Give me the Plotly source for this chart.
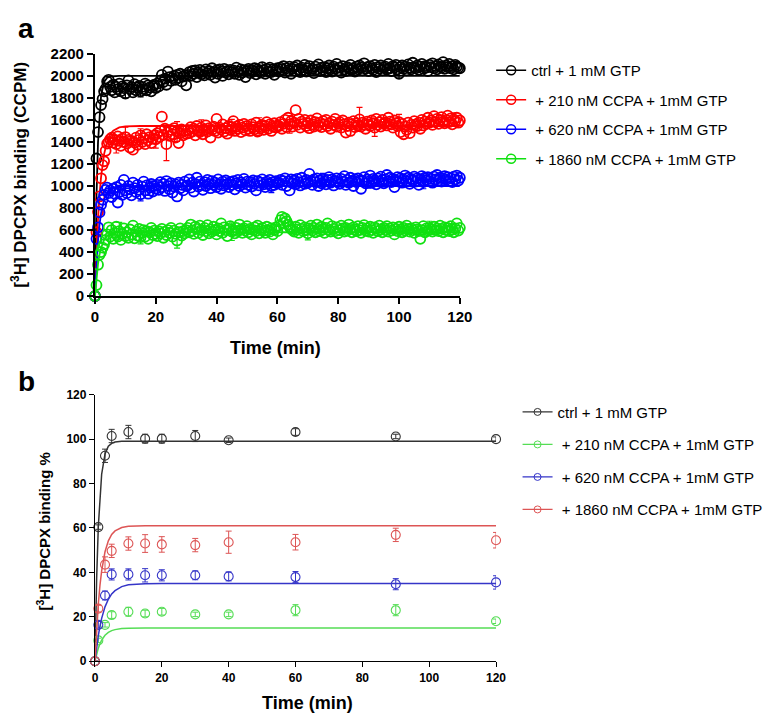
import plotly.graph_objects as go

# ---------------- Panel a data (time step 0.5 min) ----------------
A_CTRL = [0, 1250, 1490, 1625, 1735, 1790, 1860, 1885, 1950, 1965, 1900,
          1870, 1920, 1850, 1900, 1880, 1930, 1860, 1905, 1890, 1840,
          1915, 1960, 1880, 1900, 1850, 1925, 1870, 1895, 1910, 1860,
          1900, 1880, 1930, 1870, 1915, 1895, 1860, 1905, 1920, 1890,
          1930, 1905, 1960, 2010, 1945, 1975, 1920, 2040, 1990, 1955,
          1980, 2000, 1965, 2010, 1985, 2020, 1950, 1995, 2005, 1915,
          2010, 2035, 2000, 2045, 2020, 2050, 1990, 2030, 2055, 2015,
          2040, 2005, 2060, 2025, 2045, 2010, 2070, 2035, 1985, 2050,
          2020, 2060, 2040, 2000, 2065, 2030, 2045, 2015, 2055, 2035,
          2050, 2020, 2075, 2040, 2010, 2060, 2030, 2050, 1990, 2045,
          2065, 2025, 2055, 2040, 2070, 2015, 2060, 2045, 2030, 2080,
          2050, 2020, 2065, 2040, 2075, 2035, 2060, 2010, 2055, 2070,
          2040, 2075, 2060, 2090, 2030, 2070, 2050, 2085, 2020, 2065,
          2080, 2045, 2095, 2060, 2035, 2075, 2055, 2100, 2040, 2070,
          2090, 2050, 2065, 2025, 2085, 2060, 2105, 2045, 2075, 2055,
          2080, 2035, 2070, 2095, 2060, 2040, 2085, 2065, 2110, 2050,
          2075, 2030, 2090, 2060, 2045, 2080, 2065, 2100, 2055, 2070,
          2040, 2085, 2060, 2095, 2075, 2050, 2115, 2065, 2080, 2045,
          2090, 2070, 2055, 2100, 2035, 2080, 2065, 2095, 2050, 2075,
          2085, 2060, 2110, 2070, 2045, 2090, 2075, 2100, 2060, 2020,
          2080, 2095, 2065, 2085, 2050, 2105, 2075, 2060, 2120, 2080,
          2070, 2095, 2055, 2085, 2110, 2065, 2090, 2075, 2045, 2100,
          2080, 2115, 2070, 2090, 2060, 2105, 2085, 2075, 2125, 2065,
          2095, 2080, 2110, 2070, 2090, 2060, 2100, 2085, 2075, 2070]

A_210 = [0, 580, 765, 905, 1070, 1190, 1225, 1320, 1385, 1400, 1425,
         1440, 1395, 1420, 1380, 1450, 1410, 1365, 1430, 1400, 1445,
         1385, 1420, 1350, 1410, 1330, 1395, 1440, 1375, 1420, 1460,
         1400, 1435, 1380, 1470, 1415, 1445, 1390, 1430, 1460, 1425,
         1480, 1445, 1500, 1630, 1465, 1520, 1380, 1490, 1455, 1510,
         1470, 1525, 1440, 1495, 1390, 1480, 1515, 1460, 1500, 1475,
         1510, 1480, 1535, 1495, 1520, 1460, 1545, 1505, 1490, 1530,
         1470, 1515, 1550, 1495, 1525, 1440, 1510, 1540, 1500, 1610,
         1485, 1530, 1515, 1560, 1495, 1525, 1475, 1545, 1510, 1535,
         1590, 1500, 1540, 1520, 1555, 1490, 1530, 1565, 1505, 1545,
         1520, 1500, 1560, 1535, 1515, 1575, 1495, 1540, 1525, 1555,
         1510, 1545, 1580, 1520, 1560, 1500, 1540, 1570, 1530, 1550,
         1545, 1580, 1520, 1565, 1600, 1535, 1620, 1560, 1590, 1540,
         1575, 1690, 1555, 1610, 1530, 1585, 1565, 1600, 1545, 1570,
         1525, 1595, 1560, 1540, 1580, 1615, 1550, 1575, 1535, 1590,
         1560, 1600, 1545, 1570, 1520, 1585, 1555, 1610, 1540, 1565,
         1580, 1530, 1595, 1560, 1485, 1545, 1575, 1500, 1560, 1590,
         1535, 1570, 1550, 1605, 1540, 1575, 1555, 1520, 1585, 1560,
         1545, 1595, 1570, 1530, 1610, 1555, 1580, 1540, 1600, 1565,
         1575, 1550, 1620, 1585, 1560, 1530, 1595, 1570, 1545, 1580,
         1490, 1565, 1470, 1540, 1510, 1575, 1480, 1555, 1530, 1590,
         1560, 1545, 1575, 1520, 1600, 1550, 1585, 1565, 1620, 1575,
         1595, 1555, 1635, 1580, 1610, 1565, 1600, 1625, 1585, 1570,
         1600, 1640, 1580, 1615, 1560, 1605, 1590, 1620, 1575, 1595]

A_620 = [0, 520, 625, 760, 830, 875, 920, 965, 985, 935, 960,
         900, 975, 930, 990, 850, 945, 1010, 920, 1055, 960,
         935, 1000, 970, 915, 1030, 980, 945, 1010, 965, 925,
         995, 1040, 960, 1005, 930, 985, 1020, 950, 1000, 975,
         1010, 965, 1035, 990, 1020, 955, 1045, 1000, 970, 1025,
         940, 995, 1015, 905, 1030, 980, 1010, 960, 1040, 1000,
         1005, 1060, 985, 1030, 950, 1020, 1075, 995, 1040, 1010,
         965, 1035, 1000, 1055, 1020, 980, 1045, 1010, 1030, 990,
         1060, 1015, 975, 1040, 1005, 1050, 1020, 990, 1035, 1010,
         1045, 970, 1025, 1055, 1000, 1030, 1015, 1065, 985, 1040,
         1010, 1035, 995, 1050, 1020, 960, 1045, 1005, 1030, 1060,
         1015, 990, 1040, 1020, 1055, 1000, 1035, 1010, 1045, 1025,
         1030, 1055, 1010, 1045, 1070, 1000, 1040, 960, 1060, 1025,
         1050, 1015, 1065, 1035, 1005, 1075, 1040, 1020, 1055, 1030,
         1110, 1045, 1010, 1060, 1035, 1070, 1000, 1050, 1025, 1065,
         1040, 1015, 1055, 1080, 1030, 1060, 1005, 1045, 1070, 1035,
         1020, 1065, 1040, 1090, 1010, 1055, 1030, 1075, 1045, 1000,
         1060, 1035, 1070, 1050, 975, 1045, 1080, 1025, 1060, 1040,
         1095, 1030, 1065, 1050, 1015, 1070, 1040, 1085, 1055, 1025,
         1060, 1100, 1045, 1075, 1035, 1065, 990, 1050, 1080, 1040,
         1070, 1030, 1060, 1095, 1045, 1075, 1020, 1065, 1050, 1085,
         1040, 1070, 1010, 1060, 1090, 1035, 1075, 1055, 1080, 1045,
         1065, 1030, 1085, 1060, 1100, 1050, 1075, 1040, 1070, 1090,
         1055, 1080, 1045, 1070, 1035, 1085, 1060, 1095, 1050, 1075]

A_1860 = [0, 100, 285, 375, 400, 440, 470, 510, 560, 625, 540,
          600, 520, 575, 630, 540, 590, 510, 565, 615, 545,
          580, 530, 605, 560, 640, 525, 585, 550, 610, 535,
          575, 600, 540, 590, 520, 580, 620, 555, 595, 565,
          545, 590, 570, 610, 530, 585, 555, 600, 575, 620,
          540, 595, 565, 505, 580, 615, 550, 590, 570, 600,
          620, 580, 650, 595, 565, 630, 610, 575, 640, 600,
          555, 620, 590, 645, 570, 605, 585, 630, 600, 560,
          615, 590, 660, 575, 625, 600, 545, 610, 635, 585,
          600, 570, 620, 590, 650, 605, 575, 615, 595, 635,
          580, 610, 560, 600, 625, 590, 640, 570, 605, 620,
          595, 575, 630, 600, 585, 615, 560, 605, 625, 590,
          640, 690, 720, 665, 705, 680, 650, 630, 610, 600,
          585, 630, 605, 575, 645, 610, 590, 625, 600, 570,
          615, 640, 595, 620, 580, 650, 610, 590, 630, 605,
          575, 620, 660, 600, 585, 635, 610, 590, 625, 570,
          600, 640, 615, 585, 620, 595, 650, 610, 580, 625,
          605, 590, 635, 600, 575, 620, 645, 595, 615, 585,
          630, 600, 575, 625, 610, 590, 640, 605, 580, 620,
          600, 635, 585, 615, 595, 625, 560, 610, 590, 630,
          605, 580, 620, 595, 640, 610, 585, 615, 600, 575,
          625, 605, 590, 520, 600, 635, 580, 615, 595, 620,
          605, 585, 630, 600, 615, 590, 640, 610, 580, 625,
          600, 620, 590, 635, 605, 580, 615, 660, 595, 620]

# visible error bars in panel a: (time, SEM)
ERR_T_CTRL = [10, 15, 55, 100, 119]
ERR_CTRL = [40, 50, 40, 40, 40]
ERR_T_210 = [7, 10, 15, 20, 23.5, 27, 35, 45, 54, 64, 87, 92, 100, 118]
ERR_210 = [80, 90, 60, 80, 150, 90, 70, 70, 80, 80, 110, 80, 70, 60]
ERR_T_620 = [8, 15, 18, 30, 58, 75, 90, 108]
ERR_620 = [60, 60, 70, 40, 60, 50, 60, 60]
ERR_T_1860 = [8, 15, 27, 45, 70, 110]
ERR_1860 = [80, 60, 70, 80, 60, 60]

# fitted curves panel a
FIT_T_A = [0, 0.25, 0.5, 1, 1.5, 2, 3, 4, 5, 6, 8, 10, 15, 20, 120]
FIT_A_CTRL = [0, 518, 902, 1398, 1669, 1819, 1945, 1984, 1995, 1998, 2000, 2000, 2000, 2000, 2000]
FIT_A_210 = [0, 215, 400, 697, 917, 1080, 1290, 1405, 1468, 1503, 1532, 1541, 1545, 1545, 1545]
FIT_A_620 = [0, 161, 295, 503, 650, 753, 878, 939, 970, 985, 996, 999, 1000, 1000, 1000]
FIT_A_1860 = [0, 93, 171, 292, 377, 437, 509, 545, 563, 571, 578, 579, 580, 580, 580]

# ---------------- Panel b data ----------------
T_B = [0, 1, 3, 5, 10, 15, 20, 30, 40, 60, 90, 120]
B_CTRL = [0, 60.4, 92.5, 101.4, 103.2, 100.2, 100.2, 101.4, 99.5, 103.2, 101.2, 100.0]
B_CTRL_ERR = [0, 1, 3, 3, 3, 2, 2, 2.5, 1, 1.5, 1, 1]
B_210 = [0, 9.4, 16.4, 20.8, 22.3, 21.5, 22.3, 21.1, 21.1, 23.0, 23.0, 18.0]
B_210_ERR = [0, 1, 1, 1.5, 2, 1.5, 1.5, 1, 1, 2.5, 2.5, 1]
B_620 = [0, 16.4, 29.6, 39.1, 39.1, 38.7, 38.7, 38.7, 38.2, 37.9, 34.7, 35.5]
B_620_ERR = [0, 1.5, 2, 2.5, 2.5, 3, 2.5, 2, 2, 2.5, 2.5, 3]
B_1860 = [0, 23.7, 43.5, 49.7, 53.0, 53.0, 52.6, 52.3, 53.6, 53.6, 56.9, 54.5]
B_1860_ERR = [0, 1.5, 3.5, 3, 3, 4, 3.5, 3, 5, 3.5, 3, 3.5]

FIT_T_B = [0, 0.25, 0.5, 1, 1.5, 2, 3, 4, 5, 6, 8, 10, 15, 20, 120]
FIT_B_CTRL = [0, 20.9, 37.4, 60.7, 75.2, 84.2, 93.3, 96.8, 98.1, 98.7, 99.0, 99.0, 99.0, 99.0, 99.0]
FIT_B_210 = [0, 1.8, 3.3, 5.9, 7.9, 9.5, 11.7, 13.0, 13.8, 14.25, 14.7, 14.9, 15.0, 15.0, 15.0]
FIT_B_620 = [0, 3.3, 6.3, 11.5, 15.8, 19.3, 24.5, 27.9, 30.3, 31.8, 33.6, 34.4, 34.9, 35.0, 35.0]
FIT_B_1860 = [0, 7.8, 14.7, 25.8, 34.3, 40.7, 49.3, 54.2, 57.1, 58.7, 60.2, 60.75, 61.0, 61.0, 61.0]

LABELS_A = ["ctrl + 1 mM GTP", " + 210 nM CCPA + 1mM GTP",
            " + 620 nM CCPA + 1mM GTP", " + 1860 nM CCPA + 1mM GTP"]
LABELS_B = ["ctrl + 1 mM GTP", " + 210 nM CCPA + 1mM GTP",
            " + 620 nM CCPA + 1mM GTP", " + 1860 nM CCPA + 1mM GTP"]

COLORS_A = ["#000000", "#ff0000", "#0000ff", "#10e010"]
COLORS_B = ["#333333", "#55dd55", "#3535c8", "#dd5555"]

W, H = 780, 722
FONT = "Liberation Sans, Arial, Helvetica, sans-serif"


def px(x):
    return x / W


def py(y):
    return 1 - y / H


fig = go.Figure()

series_a = [A_CTRL, A_210, A_620, A_1860]
fits_a = [FIT_A_CTRL, FIT_A_210, FIT_A_620, FIT_A_1860]
errs_a = [(ERR_T_CTRL, ERR_CTRL), (ERR_T_210, ERR_210), (ERR_T_620, ERR_620), (ERR_T_1860, ERR_1860)]

for i in range(4):
    c = COLORS_A[i]
    vals = series_a[i]
    t = [k * 0.5 for k in range(len(vals))]
    fig.add_trace(go.Scatter(x=FIT_T_A, y=fits_a[i], mode="lines", line=dict(color=c, width=1.8),
                             xaxis="x", yaxis="y", showlegend=False, hoverinfo="skip", cliponaxis=False))
    fig.add_trace(go.Scatter(x=t, y=vals, mode="markers",
                             marker=dict(symbol="circle-open", size=10, color=c, line=dict(width=1.8, color=c)),
                             xaxis="x", yaxis="y", showlegend=False, cliponaxis=False))
    et, ev = errs_a[i]
    ey = [vals[int(round(tt * 2))] for tt in et]
    fig.add_trace(go.Scatter(x=et, y=ey, mode="markers", marker=dict(size=1, color="rgba(0,0,0,0)"),
                             error_y=dict(type="data", array=ev, visible=True, color=c, thickness=1.2, width=3),
                             xaxis="x", yaxis="y", showlegend=False, hoverinfo="skip", cliponaxis=False))
    fig.add_trace(go.Scatter(x=[None], y=[None], mode="lines+markers", name=LABELS_A[i],
                             line=dict(color=c, width=1.5),
                             marker=dict(symbol="circle-open", size=9, color=c, line=dict(width=1.5, color=c)),
                             legend="legend", legendgroup="a%d" % i, xaxis="x", yaxis="y"))

series_b = [B_CTRL, B_210, B_620, B_1860]
errs_b = [B_CTRL_ERR, B_210_ERR, B_620_ERR, B_1860_ERR]
fits_b = [FIT_B_CTRL, FIT_B_210, FIT_B_620, FIT_B_1860]
for i in range(4):
    c = COLORS_B[i]
    fig.add_trace(go.Scatter(x=FIT_T_B, y=fits_b[i], mode="lines", line=dict(color=c, width=1.5),
                             xaxis="x2", yaxis="y2", showlegend=False, hoverinfo="skip", cliponaxis=False))
    fig.add_trace(go.Scatter(x=T_B, y=series_b[i], mode="markers",
                             marker=dict(symbol="circle-open", size=9, color=c, line=dict(width=1.1, color=c)),
                             error_y=dict(type="data", array=errs_b[i], visible=True, color=c, thickness=1, width=3),
                             xaxis="x2", yaxis="y2", showlegend=False, cliponaxis=False))
    fig.add_trace(go.Scatter(x=[None], y=[None], mode="lines+markers", name=LABELS_B[i],
                             line=dict(color=c, width=1.2),
                             marker=dict(symbol="circle-open", size=7, color=c, line=dict(width=1, color=c)),
                             legend="legend2", legendgroup="b%d" % i, xaxis="x2", yaxis="y2"))

axis_a = dict(showline=True, linecolor="black", linewidth=2, ticks="outside", ticklen=6, tickwidth=2,
              tickcolor="black", showgrid=False, zeroline=False,
              tickfont=dict(family=FONT, size=15, color="black", weight="bold"))
axis_b = dict(showline=True, linecolor="black", linewidth=1.3, ticks="outside", ticklen=5, tickwidth=1.3,
              tickcolor="black", showgrid=False, zeroline=False,
              tickfont=dict(family=FONT, size=12, color="black", weight="bold"))

fig.update_layout(
    width=W, height=H, margin=dict(l=0, r=0, t=0, b=0),
    paper_bgcolor="white", plot_bgcolor="white",
    xaxis=dict(domain=[px(93), px(466)], range=[0, 120], dtick=20, anchor="y", **axis_a),
    yaxis=dict(domain=[py(294), py(46)], range=[0, 2200], dtick=200, anchor="x", **axis_a),
    xaxis2=dict(domain=[px(93), px(503)], range=[0, 120], dtick=20, anchor="y2", **axis_b),
    yaxis2=dict(domain=[py(668), py(395)], range=[0, 120], dtick=20, anchor="x2", **axis_b),
    legend=dict(x=px(498), y=py(46), xanchor="left", yanchor="top", bgcolor="rgba(0,0,0,0)",
                font=dict(family=FONT, size=15, color="black"), traceorder="grouped",
                tracegroupgap=7, itemwidth=30),
    legend2=dict(x=px(525), y=py(396), xanchor="left", yanchor="top", bgcolor="rgba(0,0,0,0)",
                 font=dict(family=FONT, size=15, color="black"), traceorder="grouped",
                 tracegroupgap=10, itemwidth=30),
    showlegend=True,
)

ann = [
    dict(text="<b>a</b>", x=px(22), y=py(20), font=dict(size=28)),
    dict(text="<b>b</b>", x=px(23), y=py(381), font=dict(size=28)),
    dict(text="<b>[<sup>3</sup>H] DPCPX binding (CCPM)</b>", x=px(15), y=py(170), textangle=-90, font=dict(size=17)),
    dict(text="<b>Time (min)</b>", x=px(278), y=py(347), font=dict(size=18)),
    dict(text="<b>[<sup>3</sup>H] DPCPX binding %</b>", x=px(40), y=py(535), textangle=-90, font=dict(size=15)),
    dict(text="<b>Time (min)</b>", x=px(310), y=py(711), font=dict(size=18)),
]
for a in ann:
    a.update(xref="paper", yref="paper", showarrow=False, xanchor="center", yanchor="middle")
    a["font"].update(family=FONT, color="black")
    fig.add_annotation(**a)

fig.write_html("out.html", config={"displayModeBar": False},
               post_script="document.body.style.margin='0';document.body.style.overflow='hidden';")
